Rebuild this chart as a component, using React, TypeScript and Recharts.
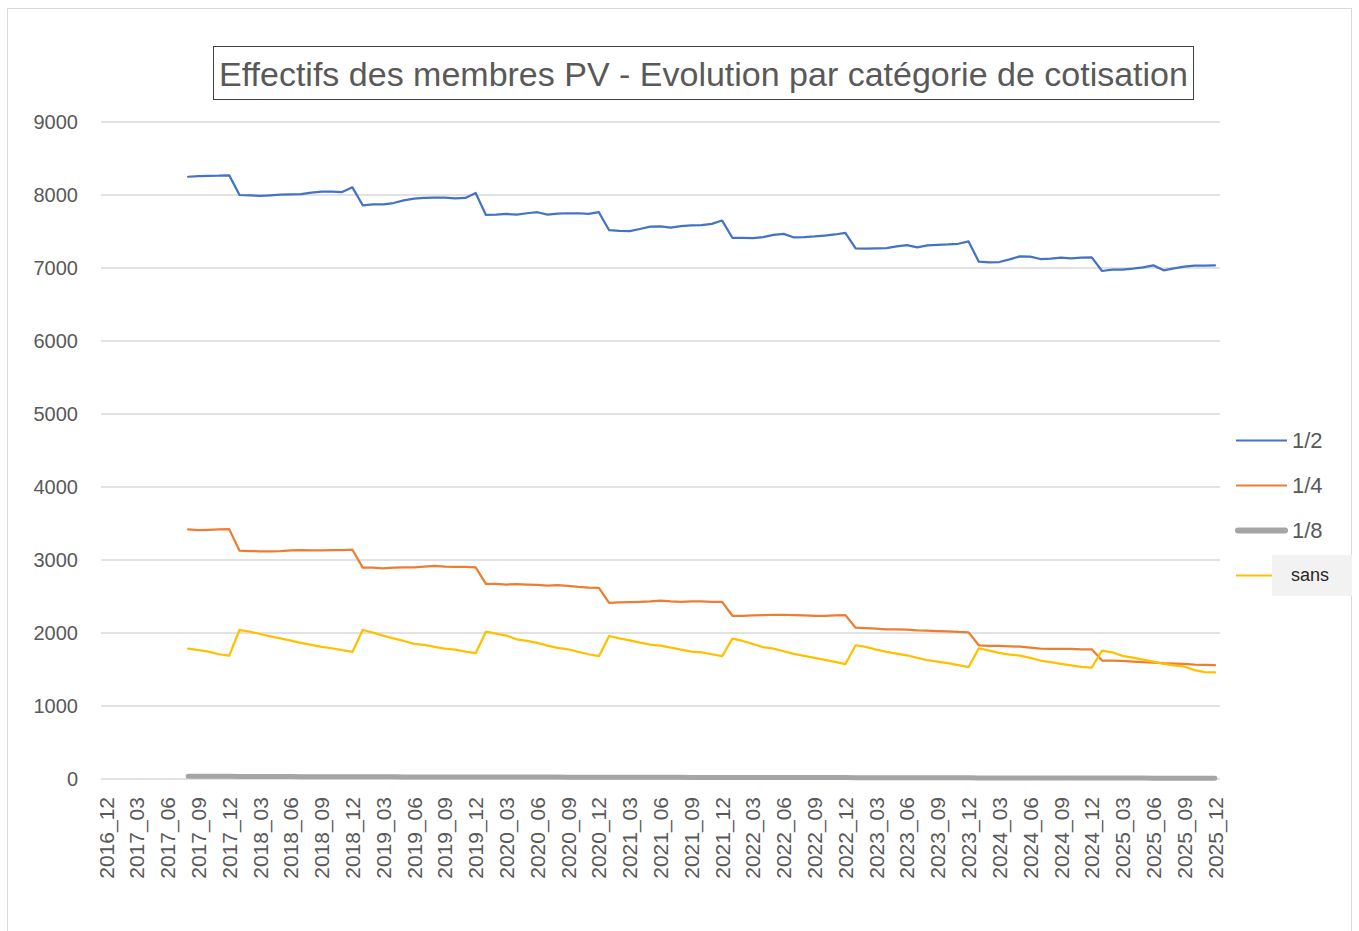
import { LineChart, Line, XAxis, YAxis, CartesianGrid, Legend } from 'recharts';

const FONT = '"Liberation Sans", Arial, sans-serif';

const MONTHS = [
  '2016_12',
  '2017_01', '2017_02', '2017_03', '2017_04', '2017_05', '2017_06', '2017_07', '2017_08', '2017_09', '2017_10', '2017_11', '2017_12',
  '2018_01', '2018_02', '2018_03', '2018_04', '2018_05', '2018_06', '2018_07', '2018_08', '2018_09', '2018_10', '2018_11', '2018_12',
  '2019_01', '2019_02', '2019_03', '2019_04', '2019_05', '2019_06', '2019_07', '2019_08', '2019_09', '2019_10', '2019_11', '2019_12',
  '2020_01', '2020_02', '2020_03', '2020_04', '2020_05', '2020_06', '2020_07', '2020_08', '2020_09', '2020_10', '2020_11', '2020_12',
  '2021_01', '2021_02', '2021_03', '2021_04', '2021_05', '2021_06', '2021_07', '2021_08', '2021_09', '2021_10', '2021_11', '2021_12',
  '2022_01', '2022_02', '2022_03', '2022_04', '2022_05', '2022_06', '2022_07', '2022_08', '2022_09', '2022_10', '2022_11', '2022_12',
  '2023_01', '2023_02', '2023_03', '2023_04', '2023_05', '2023_06', '2023_07', '2023_08', '2023_09', '2023_10', '2023_11', '2023_12',
  '2024_01', '2024_02', '2024_03', '2024_04', '2024_05', '2024_06', '2024_07', '2024_08', '2024_09', '2024_10', '2024_11', '2024_12',
  '2025_01', '2025_02', '2025_03', '2025_04', '2025_05', '2025_06', '2025_07', '2025_08', '2025_09', '2025_10', '2025_11', '2025_12',
];

// cotisation 1/2 (no data before 2017_08)
const HALF = [
  null, null, null, null, null, null, null, null,
  8250, 8258, 8263, 8264, 8270,
  8000, 7995, 7988, 7995, 8004, 8009, 8013, 8031, 8045, 8045, 8041, 8105,
  7859, 7873, 7872, 7890, 7927, 7950, 7959, 7964, 7964, 7955, 7959, 8027,
  7727, 7732, 7741, 7732, 7750, 7764, 7732, 7745, 7750, 7750, 7741, 7764,
  7518, 7509, 7505, 7534, 7566, 7570, 7552, 7575, 7584, 7586, 7605, 7650,
  7414, 7414, 7409, 7423, 7455, 7468, 7418, 7423, 7432, 7445, 7459, 7482,
  7268, 7264, 7268, 7273, 7295, 7314, 7282, 7309, 7318, 7323, 7332, 7364,
  7086, 7077, 7082, 7118, 7159, 7155, 7123, 7127, 7141, 7132, 7141, 7145,
  6959, 6977, 6977, 6991, 7009, 7036, 6968, 6995, 7018, 7032, 7032, 7036,
];

// cotisation 1/4
const QUARTER = [
  null, null, null, null, null, null, null, null,
  3418, 3409, 3414, 3418, 3423,
  3127, 3123, 3118, 3118, 3123, 3132, 3136, 3132, 3132, 3136, 3136, 3141,
  2895, 2895, 2886, 2895, 2900, 2900, 2909, 2918, 2909, 2905, 2905, 2900,
  2673, 2673, 2664, 2668, 2664, 2659, 2650, 2655, 2645, 2632, 2623, 2618,
  2414, 2418, 2423, 2427, 2432, 2445, 2432, 2427, 2432, 2432, 2427, 2427,
  2236, 2236, 2241, 2245, 2250, 2250, 2245, 2241, 2236, 2236, 2241, 2245,
  2073, 2068, 2059, 2050, 2050, 2045, 2036, 2032, 2027, 2023, 2014, 2009,
  1832, 1823, 1823, 1818, 1814, 1800, 1786, 1782, 1782, 1782, 1777, 1777,
  1623, 1623, 1618, 1609, 1600, 1595, 1586, 1582, 1577, 1568, 1564, 1559,
];

// cotisation 1/8
const EIGHTH = [
  null, null, null, null, null, null, null, null,
  38, 38, 37, 37, 37,
  34, 34, 33, 33, 33, 33, 32, 32, 32, 32, 32, 32,
  30, 30, 30, 30, 29, 29, 29, 29, 29, 29, 28, 28,
  27, 27, 27, 26, 26, 26, 26, 26, 25, 25, 25, 25,
  24, 24, 24, 23, 23, 23, 23, 23, 22, 22, 22, 22,
  21, 21, 21, 21, 20, 20, 20, 20, 20, 19, 19, 19,
  18, 18, 18, 18, 17, 17, 17, 17, 17, 16, 16, 16,
  15, 15, 15, 15, 14, 14, 14, 14, 14, 14, 13, 13,
  12, 12, 12, 12, 12, 11, 11, 11, 11, 11, 11, 10,
];

// sans cotisation
const NONE = [
  null, null, null, null, null, null, null, null,
  1786, 1764, 1745, 1709, 1691,
  2041, 2018, 1986, 1955, 1927, 1895, 1864, 1836, 1809, 1791, 1764, 1741,
  2041, 2005, 1964, 1927, 1891, 1850, 1836, 1809, 1786, 1773, 1745, 1723,
  2018, 1991, 1964, 1914, 1891, 1864, 1827, 1795, 1777, 1741, 1709, 1682,
  1959, 1927, 1900, 1868, 1841, 1827, 1800, 1773, 1745, 1736, 1709, 1682,
  1923, 1891, 1850, 1805, 1786, 1750, 1714, 1686, 1659, 1632, 1605, 1573,
  1832, 1809, 1773, 1741, 1718, 1695, 1659, 1627, 1609, 1586, 1559, 1532,
  1791, 1759, 1727, 1705, 1691, 1659, 1623, 1600, 1577, 1555, 1536, 1527,
  1759, 1736, 1686, 1664, 1636, 1609, 1577, 1555, 1541, 1491, 1464, 1459,
];

const Y_TICKS = [0, 1000, 2000, 3000, 4000, 5000, 6000, 7000, 8000, 9000];

const SERIES = [
  { key: 'half', name: '1/2', color: '#4472C4', width: 2.25 },
  { key: 'quarter', name: '1/4', color: '#ED7D31', width: 2.25 },
  { key: 'eighth', name: '1/8', color: '#A5A5A5', width: 5 },
  { key: 'none', name: 'sans', color: '#FFC000', width: 2.25 },
];

const data = MONTHS.map((month, i) => ({
  month,
  half: HALF[i],
  quarter: QUARTER[i],
  eighth: EIGHTH[i],
  none: NONE[i],
}));

function MonthTick(props: any) {
  const { x, y, payload } = props;
  return (
    <text
      x={x}
      y={y}
      transform={`rotate(-90, ${x}, ${y})`}
      textAnchor="end"
      dy="0.36em"
      fill="#595959"
      fontSize={21}
      fontFamily={FONT}
    >
      {payload.value}
    </text>
  );
}

function SideLegend() {
  return (
    <div style={{ position: 'relative', width: 129, height: 180, fontFamily: FONT }}>
      {SERIES.map((s, i) => {
        const top = i * 45;
        const isSans = s.key === 'none';
        const thick = s.width > 3;
        return (
          <div key={s.key} style={{ position: 'absolute', left: 0, top, width: 129, height: 45 }}>
            <svg width={60} height={45} style={{ position: 'absolute', left: 0, top: 0 }}>
              <line
                x1={thick ? 8 : 6}
                x2={thick ? 55 : 57}
                y1={22.5}
                y2={22.5}
                stroke={s.color}
                strokeWidth={thick ? 6 : 2}
                strokeLinecap={thick ? 'round' : 'butt'}
              />
            </svg>
            {isSans ? (
              <div
                style={{
                  position: 'absolute',
                  left: 42,
                  top: 2,
                  width: 80,
                  height: 41,
                  background: '#F2F2F2',
                  color: '#262626',
                  fontSize: 18,
                  lineHeight: '41px',
                  paddingLeft: 19,
                  boxSizing: 'border-box',
                }}
              >
                {s.name}
              </div>
            ) : (
              <div
                style={{
                  position: 'absolute',
                  left: 62,
                  top: 0,
                  height: 45,
                  lineHeight: '45px',
                  fontSize: 22,
                  color: '#595959',
                }}
              >
                {s.name}
              </div>
            )}
          </div>
        );
      })}
    </div>
  );
}

export default function App() {
  return (
    <div style={{ position: 'absolute', left: 0, top: 0, width: 1359, height: 931, background: '#fff', overflow: 'hidden' }}>
      <div
        style={{
          position: 'absolute',
          left: 7,
          top: 8,
          width: 1345,
          height: 960,
          border: '1px solid #D9D9D9',
          boxSizing: 'border-box',
        }}
      />
      <div
        style={{
          position: 'absolute',
          left: 213,
          top: 46,
          width: 981,
          height: 54,
          border: '1px solid #404040',
          boxSizing: 'border-box',
          textAlign: 'center',
          lineHeight: '54px',
          fontSize: 34,
          color: '#595959',
          fontFamily: FONT,
          whiteSpace: 'nowrap',
        }}
      >
        Effectifs des membres PV - Evolution par catégorie de cotisation
      </div>
      <div style={{ position: 'absolute', left: 0, top: 0 }}>
        <LineChart width={1359} height={931} data={data} margin={{ top: 122, right: 139, left: 0, bottom: 0 }}>
          <CartesianGrid vertical={false} stroke="#D9D9D9" strokeWidth={1.5} />
          <XAxis
            dataKey="month"
            interval={2}
            tick={<MonthTick />}
            tickLine={false}
            axisLine={false}
            tickSize={0}
            tickMargin={18}
            height={152}
            padding={{ left: 5, right: 5 }}
          />
          <YAxis
            domain={[0, 9000]}
            ticks={Y_TICKS}
            width={101}
            tickLine={false}
            axisLine={false}
            tickSize={0}
            tickMargin={23}
            tick={{ fill: '#595959', fontSize: 20, fontFamily: FONT }}
          />
          <Legend
            layout="horizontal"
            align="center"
            verticalAlign="middle"
            wrapperStyle={{ left: 1230, top: 418, width: 129, height: 180 }}
            content={() => <SideLegend />}
          />
          {SERIES.map(s => (
            <Line
              key={s.key}
              type="linear"
              dataKey={s.key}
              name={s.name}
              stroke={s.color}
              strokeWidth={s.width}
              strokeLinecap="round"
              strokeLinejoin="round"
              dot={false}
              activeDot={false}
              isAnimationActive={false}
            />
          ))}
        </LineChart>
      </div>
    </div>
  );
}
